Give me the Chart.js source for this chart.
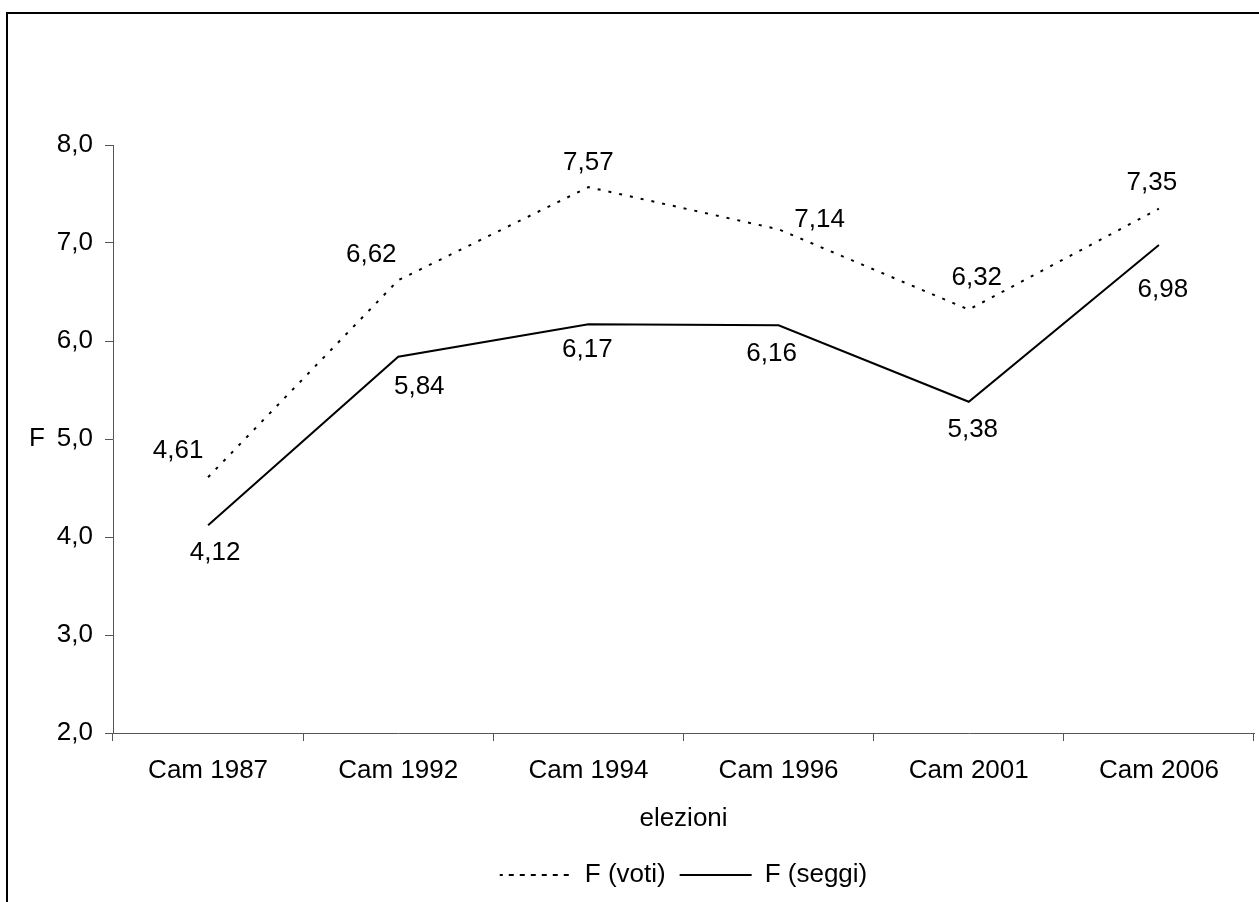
<!DOCTYPE html>
<html>
<head>
<meta charset="utf-8">
<script src="https://cdn.jsdelivr.net/npm/chart.js@4.4.1/dist/chart.umd.min.js"></script>
<style>
  html, body { margin: 0; padding: 0; background: #ffffff; }
  #wrap { width: 1259px; height: 902px; position: relative; }
</style>
</head>
<body>
<div id="wrap"><canvas id="chart"></canvas></div>
<script>
// Elections on the x axis
const categories = ['Cam 1987', 'Cam 1992', 'Cam 1994', 'Cam 1996', 'Cam 2001', 'Cam 2006'];
// Fractionalisation index, computed on votes and on seats
const fVoti  = [4.61, 6.62, 7.57, 7.14, 6.32, 7.35];
const fSeggi = [4.12, 5.84, 6.17, 6.16, 5.38, 6.98];
// Value axis range and step
const yMin = 2;
const yMax = 8;
const yStep = 1;

const FONT = "'Liberation Sans', Arial, Helvetica, sans-serif";
Chart.defaults.font.family = FONT;
Chart.defaults.font.size = 26;
Chart.defaults.color = '#000000';

const comma = (v, d) => Number(v).toFixed(d).replace('.', ',');

// Where each value label sits relative to its point (dx, dy in px)
const labelPlacement = {
  voti:  [[-30, -26], [-27, -25], [0, -24], [41, -9], [8, -32], [-7, -26]],
  seggi: [[7, 28], [21, 30], [-1, 25], [-7, 29], [4, 28], [4, 45]]
};

// Outer frame of the figure
const framePlugin = {
  id: 'frame',
  beforeDraw(chart) {
    const ctx = chart.ctx;
    ctx.save();
    ctx.strokeStyle = '#000000';
    ctx.lineWidth = 2;
    ctx.beginPath();
    ctx.moveTo(7, chart.height);
    ctx.lineTo(7, 13);
    ctx.lineTo(chart.width, 13);
    ctx.stroke();
    ctx.restore();
  }
};

// Value labels next to each point
const valueLabelsPlugin = {
  id: 'valueLabels',
  afterDatasetsDraw(chart) {
    const ctx = chart.ctx;
    ctx.save();
    ctx.font = '26px ' + FONT;
    ctx.fillStyle = '#000000';
    ctx.textAlign = 'center';
    ctx.textBaseline = 'middle';
    chart.data.datasets.forEach((ds, di) => {
      const meta = chart.getDatasetMeta(di);
      const place = labelPlacement[ds.key];
      meta.data.forEach((pt, i) => {
        const [dx, dy] = place[i];
        ctx.fillText(comma(ds.data[i], 2), pt.x + dx, pt.y + dy);
      });
    });
    ctx.restore();
  }
};

// Horizontal "F" title beside the value axis
const yTitlePlugin = {
  id: 'yTitle',
  afterDraw(chart) {
    const ctx = chart.ctx;
    const area = chart.chartArea;
    ctx.save();
    ctx.font = '26px ' + FONT;
    ctx.fillStyle = '#000000';
    ctx.textAlign = 'center';
    ctx.textBaseline = 'middle';
    ctx.fillText('F', 37, (area.top + area.bottom) / 2);
    ctx.restore();
  }
};

new Chart(document.getElementById('chart'), {
  type: 'line',
  data: {
    labels: categories,
    datasets: [
      {
        key: 'voti',
        label: 'F (voti)',
        data: fVoti,
        borderColor: '#000000',
        backgroundColor: 'rgba(0,0,0,0)',
        borderWidth: 2,
        borderDash: [3, 8],
        pointRadius: 0,
        tension: 0,
        fill: false
      },
      {
        key: 'seggi',
        label: 'F (seggi)',
        data: fSeggi,
        borderColor: '#000000',
        backgroundColor: 'rgba(0,0,0,0)',
        borderWidth: 2,
        pointRadius: 0,
        tension: 0,
        fill: false
      }
    ]
  },
  options: {
    responsive: true,
    maintainAspectRatio: false,
    animation: false,
    layout: { padding: { top: 145, right: 5, bottom: 4, left: 0 } },
    plugins: {
      legend: {
        position: 'bottom',
        fullSize: false,
        labels: {
          boxWidth: 72,
          boxHeight: 0,
          padding: 14,
          color: '#000000',
          font: { size: 26 }
        }
      },
      tooltip: { enabled: false }
    },
    scales: {
      x: {
        offset: true,
        grid: { offset: true, drawOnChartArea: false, drawTicks: true, tickLength: 8, color: '#555555' },
        border: { display: true, color: '#555555', width: 1 },
        ticks: { padding: 14, autoSkip: false, maxRotation: 0, color: '#000000', font: { size: 26 } },
        title: { display: true, text: 'elezioni', color: '#000000', font: { size: 26 }, padding: { top: 4, bottom: 14 } },
        afterFit(scale) { scale.height = 115; }
      },
      y: {
        min: yMin,
        max: yMax,
        ticks: {
          stepSize: yStep,
          padding: 12,
          color: '#000000',
          font: { size: 26 },
          callback: (v) => comma(v, 1)
        },
        grid: { drawOnChartArea: false, drawTicks: true, tickLength: 8, color: '#555555' },
        border: { display: true, color: '#555555', width: 1 },
        afterFit(scale) { scale.width = 113; }
      }
    }
  },
  plugins: [framePlugin, valueLabelsPlugin, yTitlePlugin]
});
</script>
</body>
</html>
